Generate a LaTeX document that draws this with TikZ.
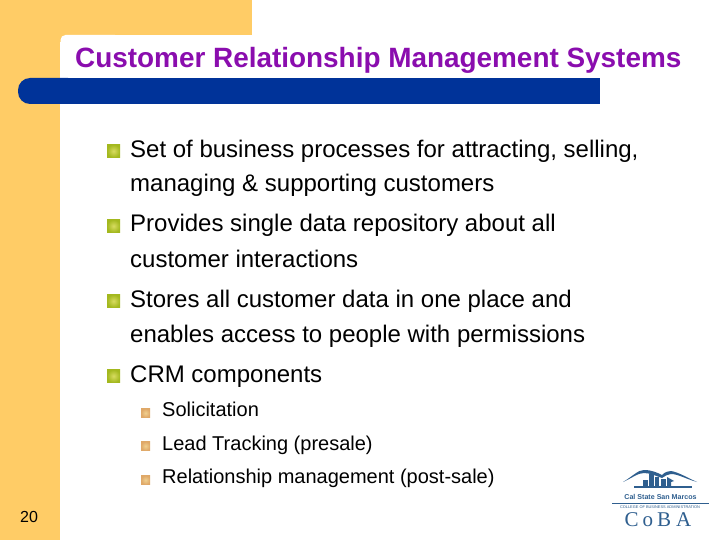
\documentclass[tikz,border=0pt]{standalone}
\usepackage{fontspec}
\setmainfont{Liberation Sans}
\newfontfamily\logofont{Liberation Serif}
\definecolor{slideorange}{HTML}{FFCC66}
\definecolor{slideblue}{HTML}{003399}
\definecolor{slidepurple}{HTML}{8A0DAE}
\definecolor{logoblue}{HTML}{2F5F8F}
\definecolor{bulletgreen}{HTML}{A3B81E}
\definecolor{bulletlight}{HTML}{D8DC60}
\definecolor{bulletorange}{HTML}{DFA868}
\definecolor{bulletsoft}{HTML}{F0D090}
\tikzset{
  x=1pt,y=-1pt,
  lineone/.style={anchor=base west,inner sep=0pt,font=\fontsize{24}{28}\selectfont,text=black},
  linetwo/.style={anchor=base west,inner sep=0pt,font=\fontsize{20}{24}\selectfont,text=black},
  bigbullet/.style={inner color=bulletlight,outer color=bulletgreen,draw=none,minimum size=13pt,inner sep=0pt},
  smallbullet/.style={inner color=bulletsoft,outer color=bulletorange,draw=none,minimum size=9pt,inner sep=0pt},
  logotext/.style={inner sep=0pt,text=logoblue}
}
\begin{document}
\begin{tikzpicture}
\useasboundingbox (0,0) rectangle (720,540);
\fill[white] (0,0) rectangle (720,540);
\fill[slideorange] (0,0) rectangle (252,35);
\fill[slideorange] (0,0) rectangle (60,540);
\fill[slideorange] (60,35) rectangle (68,42);
\fill[white,rounded corners=5] (60.5,35) rectangle (120,70);
\fill[white] (60,45) rectangle (70,78);
\fill[slideblue,rounded corners=12] (18,78) rectangle (80,104);
\fill[slideblue] (50,78) rectangle (600,104);
\node[anchor=base west,inner sep=0pt,font=\fontsize{27.9}{30}\selectfont\bfseries,text=slidepurple] (title) at (75,68) {Customer Relationship Management Systems};

\node[bigbullet] (b1) at (113.5,151) {};
\node[lineone] (t1a) at (130,158) {Set of business processes for attracting, selling,};
\node[lineone] (t1b) at (130,192) {managing \& supporting customers};
\node[bigbullet] (b2) at (113.5,226) {};
\node[lineone] (t2a) at (130,232) {Provides single data repository about all};
\node[lineone] (t2b) at (130,267) {customer interactions};
\node[bigbullet] (b3) at (113.5,301) {};
\node[lineone] (t3a) at (130,307) {Stores all customer data in one place and};
\node[lineone] (t3b) at (130,342) {enables access to people with permissions};
\node[bigbullet] (b4) at (113.5,376) {};
\node[lineone] (t4) at (130,382) {CRM components};

\node[smallbullet] (s1) at (145.5,413) {};
\node[linetwo] (u1) at (162,416) {Solicitation};
\node[smallbullet] (s2) at (145.5,446) {};
\node[linetwo] (u2) at (162,450) {Lead Tracking (presale)};
\node[smallbullet] (s3) at (145.5,480) {};
\node[linetwo] (u3) at (162,483) {Relationship management (post-sale)};

\node[anchor=base west,inner sep=0pt,font=\fontsize{16}{18}\selectfont,text=black] (num) at (20,522) {20};

% logo
\fill[logoblue] (623,482) .. controls (633,476) and (638,470) .. (644,470) .. controls (652,470) and (658,473) .. (662,475) .. controls (665,472) and (668,471) .. (671,471) .. controls (678,472) and (688,478) .. (697,482) .. controls (686,479) and (678,474) .. (671,474) .. controls (668,474) and (665,476) .. (662,478) .. controls (656,476) and (650,473) .. (644,473) .. controls (638,473) and (632,478) .. cycle;
\fill[logoblue] (643,486) rectangle (648,480);
\fill[logoblue] (649,486) rectangle (654,474);
\fill[logoblue] (655,486) rectangle (659,477);
\fill[logoblue] (661,486) rectangle (666,479);
\fill[logoblue] (667,486) -- (667,477) -- (674,481) -- (671,482) -- (671,486) -- cycle;
\fill[logoblue] (634,486) rectangle (692,487.5);
\node[logotext,font=\fontsize{7.1}{8}\selectfont\bfseries] (logoa) at (660.5,496.5) {Cal State San Marcos};
\draw[logoblue,line width=0.7pt] (612,503.5) -- (709,503.5);
\node[logotext,font=\fontsize{3.9}{5}\selectfont] (logob) at (660,507.5) {COLLEGE OF BUSINESS ADMINISTRATION};
\node[logotext,font=\fontsize{21}{22}\selectfont\logofont] (logoc) at (658,520) {C\hspace{4pt}o\hspace{4pt}B\hspace{5pt}A};
\end{tikzpicture}
\end{document}
